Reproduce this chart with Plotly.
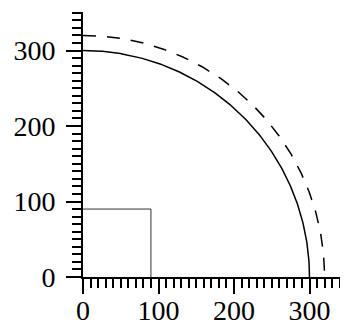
import numpy as np
import plotly.graph_objects as go

# data
solid_radius = 300
dashed_radius = 320
square_side = 90
x_ticks = [0, 100, 200, 300]
y_ticks = [0, 100, 200, 300]
x_range = [0, 351]
y_range = [0, 351]

theta = np.linspace(0, np.pi / 2, 200)

fig = go.Figure()
fig.add_trace(go.Scatter(
    x=[0, square_side, square_side], y=[square_side, square_side, 0],
    mode="lines", line=dict(color="#333333", width=1), hoverinfo="skip"))
fig.add_trace(go.Scatter(
    x=solid_radius * np.sin(theta), y=solid_radius * np.cos(theta),
    mode="lines", line=dict(color="black", width=1.5), hoverinfo="skip"))
fig.add_trace(go.Scatter(
    x=dashed_radius * np.sin(theta), y=dashed_radius * np.cos(theta),
    mode="lines", line=dict(color="black", width=1.5, dash="13px,11px"), hoverinfo="skip"))

axis_common = dict(
    showgrid=False, zeroline=False, showline=True, linecolor="black", linewidth=2,
    ticks="outside", ticklen=15, tickwidth=2, tickcolor="black", automargin=False,
    tickfont=dict(family="Liberation Serif", size=28, color="black"),
    minor=dict(dtick=10, ticks="outside", ticklen=9, tickwidth=2, tickcolor="black", showgrid=False),
)
fig.update_xaxes(range=x_range, tickvals=x_ticks, ticktext=[str(v) for v in x_ticks],
                 ticklabelstandoff=-8, **axis_common)
fig.update_yaxes(range=y_range, tickvals=y_ticks, ticktext=[str(v) for v in y_ticks],
                 ticklabelstandoff=5, **axis_common)
fig.update_layout(
    width=340, height=314, showlegend=False,
    margin=dict(l=75, r=0, t=4, b=45),
    plot_bgcolor="white", paper_bgcolor="white",
)
fig.write_html("out.html")
